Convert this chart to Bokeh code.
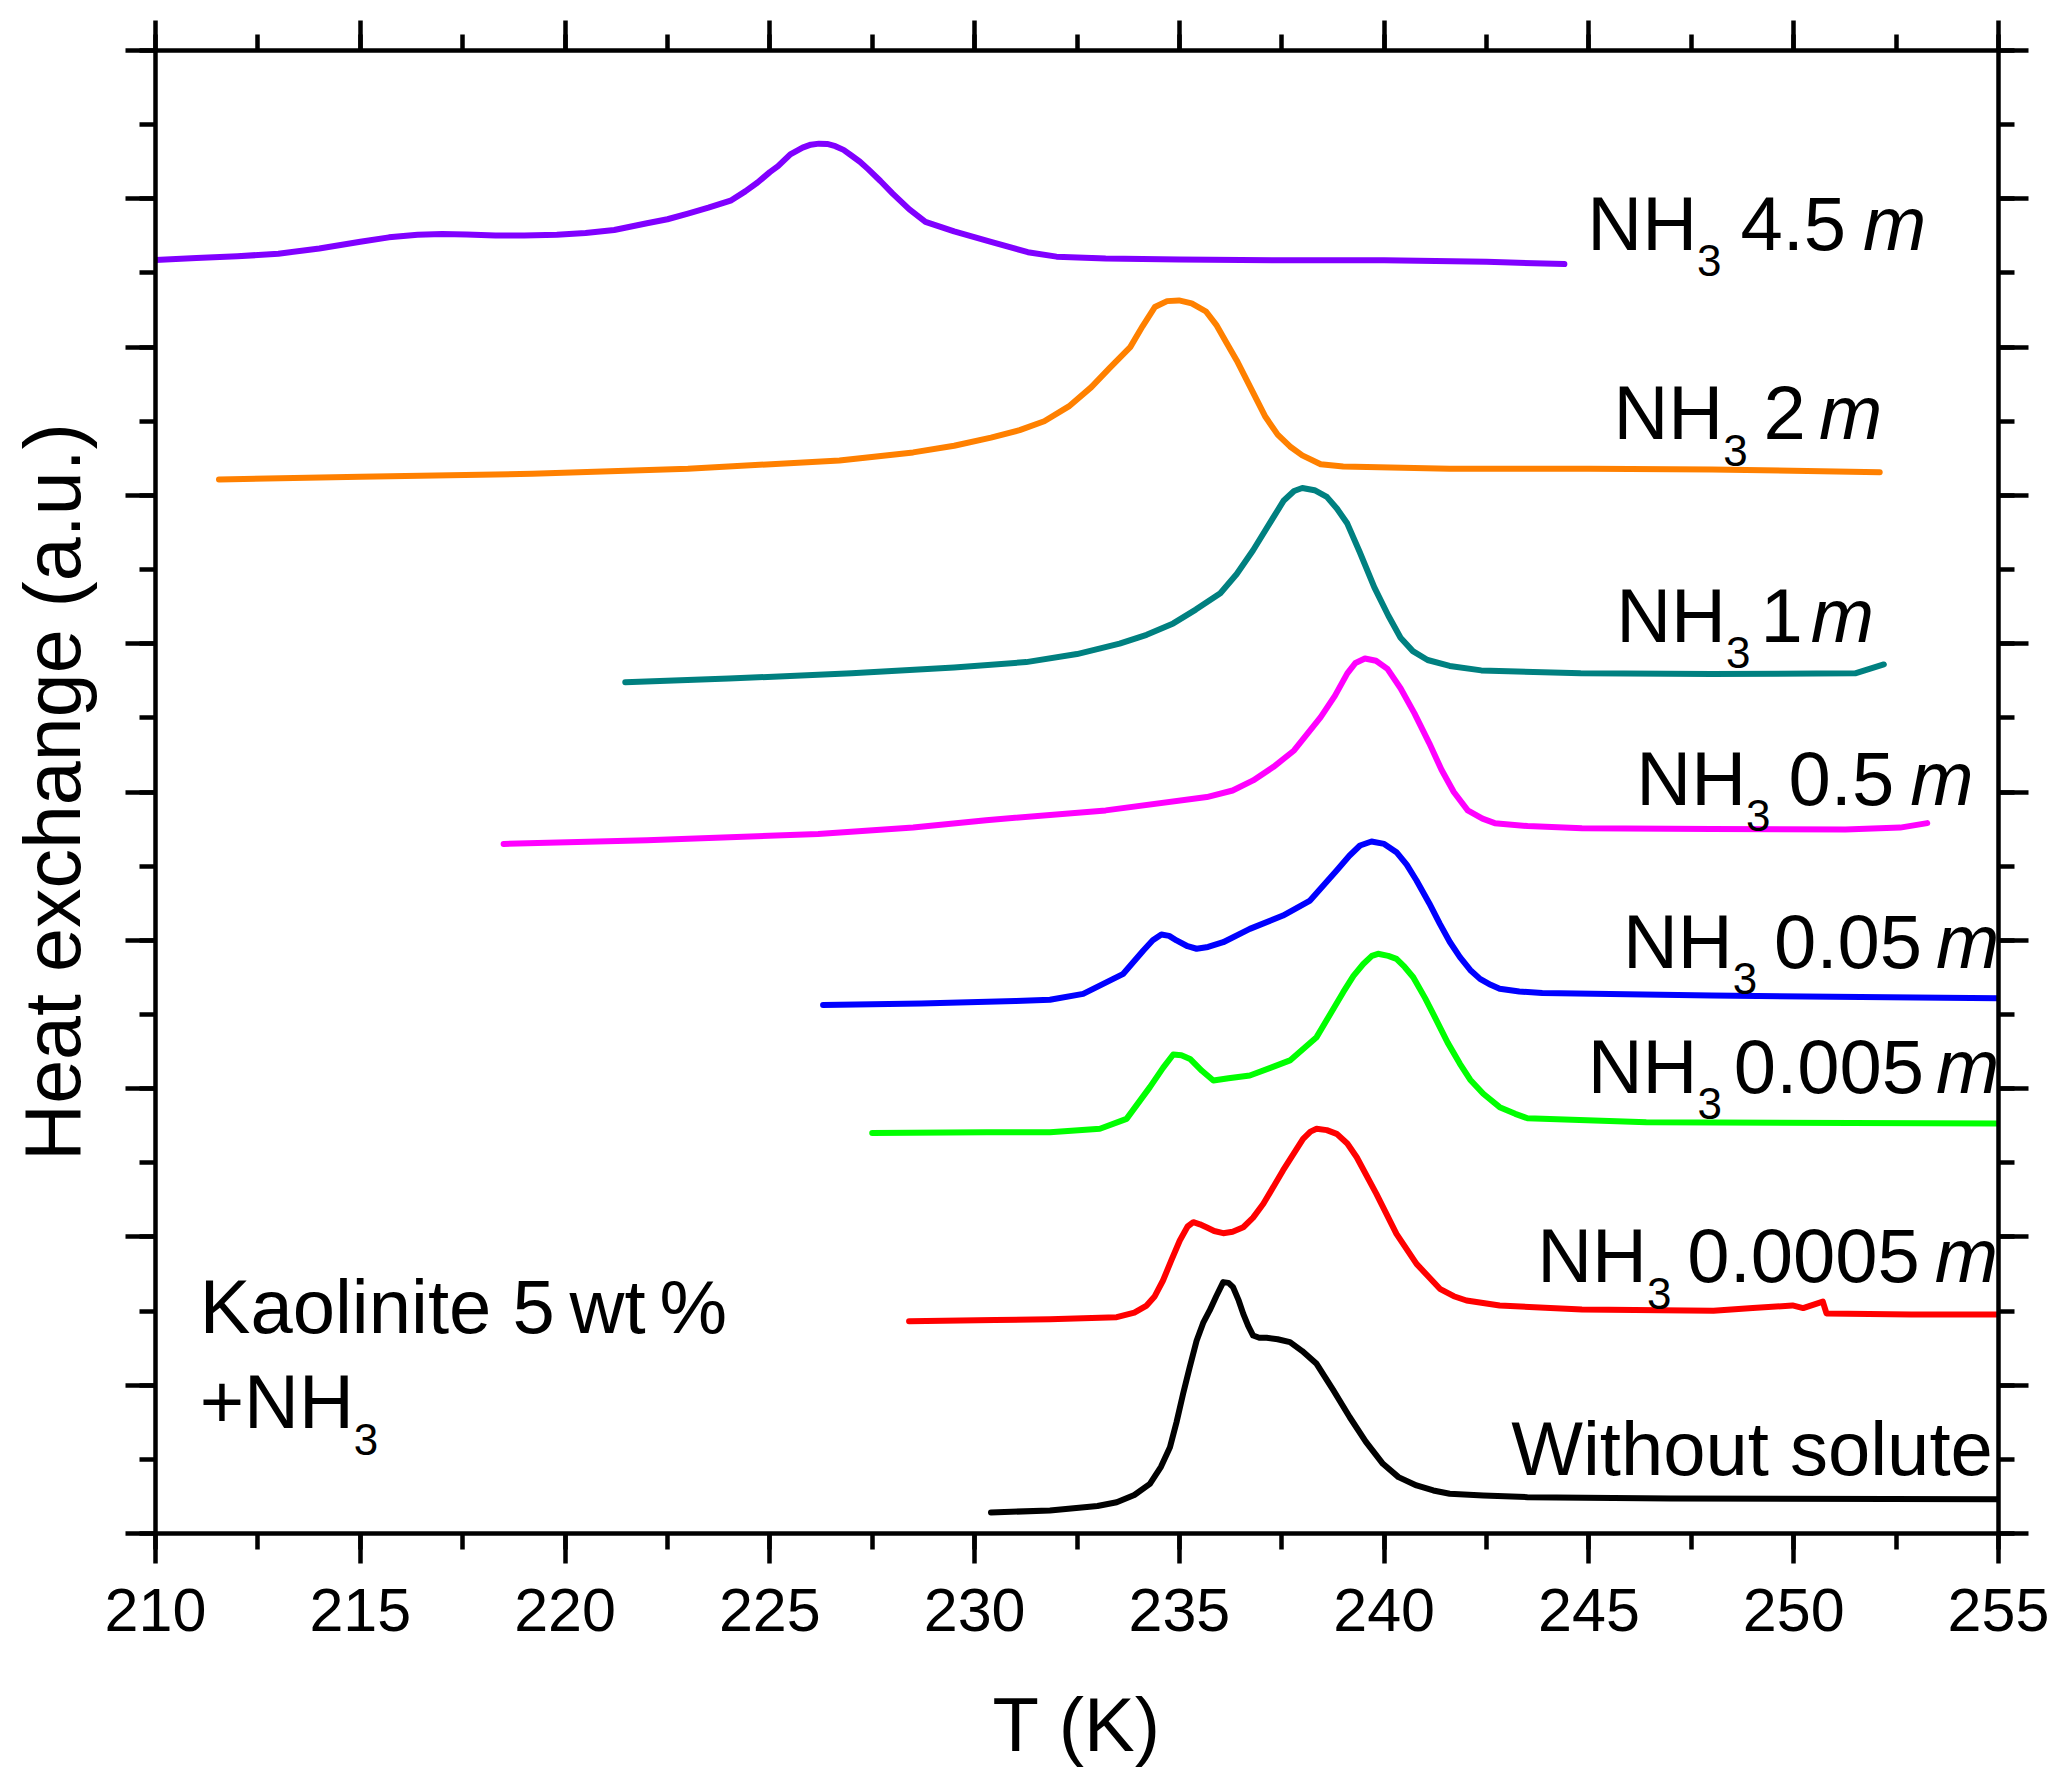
from bokeh.plotting import figure
from bokeh.models import Range1d, LinearAxis, SingleIntervalTicker, Label
from bokeh.embed import file_html
from bokeh.resources import INLINE

# DATOS: T en K, senal desplazada en unidades arbitrarias
t_45 = [210.0, 211.0, 212.0, 213.0, 214.0, 215.0, 215.7, 216.4, 217.0, 217.6, 218.3,
        219.0, 219.8, 220.5, 221.2, 222.0, 222.5, 223.0, 223.5, 224.06, 224.4, 224.7,
        225.0, 225.2, 225.5, 225.8, 226.0, 226.2, 226.4, 226.6, 226.8, 227.0, 227.2,
        227.4, 227.7, 228.0, 228.4, 228.8, 229.5, 230.4, 231.3, 232.0, 233.2, 235.0,
        237.5, 240.0, 242.5, 244.4]
y_45 = [8.587, 8.60, 8.612, 8.63, 8.665, 8.71, 8.74, 8.757, 8.763, 8.76, 8.752,
        8.752, 8.758, 8.77, 8.79, 8.835, 8.862, 8.90, 8.94, 8.99, 9.05, 9.11,
        9.18, 9.22, 9.30, 9.345, 9.365, 9.372, 9.37, 9.355, 9.33, 9.29, 9.25,
        9.20, 9.12, 9.035, 8.93, 8.845, 8.78, 8.71, 8.64, 8.61, 8.597, 8.59,
        8.585, 8.585, 8.575, 8.56]

t_2 = [211.55, 215.0, 219.2, 223.0, 226.7, 228.5, 229.5, 230.4, 231.1, 231.7, 232.3,
       232.85, 233.3, 233.8, 234.1, 234.4, 234.7, 234.99, 235.3, 235.65, 235.9, 236.15,
       236.4, 236.75, 237.1, 237.4, 237.7, 238.0, 238.45, 239.0, 241.6, 245.0, 248.0, 252.1]
y_2 = [7.107, 7.125, 7.146, 7.18, 7.236, 7.29, 7.335, 7.39, 7.44, 7.50, 7.60,
       7.73, 7.86, 8.0, 8.14, 8.27, 8.31, 8.315, 8.295, 8.24, 8.15, 8.03,
       7.91, 7.72, 7.53, 7.41, 7.33, 7.27, 7.21, 7.195, 7.18, 7.18, 7.175, 7.156]

t_1 = [221.47, 224.0, 227.0, 229.5, 231.26, 232.5, 233.54, 234.2, 234.85, 235.4, 236.0,
       236.4, 236.8, 237.2, 237.55, 237.8, 238.0, 238.3, 238.6, 238.85, 239.1, 239.4,
       239.76, 240.1, 240.4, 240.7, 241.06, 241.6, 242.37, 244.8, 248.0, 251.5, 252.2]
y_1 = [5.74, 5.765, 5.80, 5.84, 5.876, 5.93, 6.0, 6.06, 6.137, 6.23, 6.34,
       6.47, 6.63, 6.81, 6.966, 7.03, 7.05, 7.035, 6.99, 6.91, 6.81, 6.62,
       6.38, 6.19, 6.04, 5.95, 5.89, 5.85, 5.82, 5.80, 5.795, 5.80, 5.86]

t_05 = [218.5, 222.0, 226.18, 228.5, 230.28, 233.2, 235.67, 236.3, 236.8, 237.3, 237.8,
        238.45, 238.8, 239.1, 239.3, 239.53, 239.8, 240.08, 240.4, 240.74, 241.1, 241.4,
        241.7, 242.04, 242.4, 242.7, 243.5, 244.83, 248.0, 251.26, 252.6, 253.26]
y_05 = [4.65, 4.675, 4.716, 4.76, 4.81, 4.876, 4.966, 5.01, 5.078, 5.17, 5.28,
        5.505, 5.65, 5.80, 5.87, 5.90, 5.885, 5.83, 5.70, 5.53, 5.33, 5.15,
        5.00, 4.876, 4.82, 4.79, 4.77, 4.756, 4.75, 4.747, 4.76, 4.79]

t_005 = [226.3, 228.7, 231.0, 231.84, 232.65, 233.63, 234.12, 234.35, 234.56, 234.75,
         234.93, 235.2, 235.42, 235.7, 236.07, 236.72, 237.53, 238.19, 238.84, 239.15,
         239.41, 239.69, 240.0, 240.3, 240.55, 240.79, 241.1, 241.36, 241.6, 241.85,
         242.1, 242.34, 242.6, 242.82, 243.3, 243.86, 248.0, 255.0]
y_005 = [3.564, 3.573, 3.59, 3.599, 3.639, 3.774, 3.931, 4.0, 4.039, 4.03,
         3.999, 3.96, 3.943, 3.955, 3.987, 4.077, 4.167, 4.268, 4.471, 4.57,
         4.639, 4.666, 4.65, 4.594, 4.51, 4.403, 4.25, 4.111, 3.99, 3.886,
         3.80, 3.74, 3.70, 3.673, 3.655, 3.644, 3.627, 3.61]

t_0005 = [227.5, 230.3, 231.84, 233.06, 233.71, 234.28, 234.6, 234.85, 235.05, 235.26,
          235.55, 235.83, 236.2, 236.72, 237.7, 238.35, 239.0, 239.25, 239.49, 239.7,
          239.85, 240.1, 240.3, 240.5, 240.71, 241.0, 241.28, 241.55, 241.85, 242.1,
          242.42, 242.82, 243.2, 243.5, 246.4, 255.0]
y_0005 = [2.70, 2.705, 2.706, 2.729, 2.796, 3.01, 3.14, 3.23, 3.225, 3.20,
          3.12, 3.055, 3.07, 3.088, 3.19, 3.347, 3.65, 3.76, 3.84, 3.895,
          3.909, 3.895, 3.875, 3.82, 3.751, 3.61, 3.459, 3.31, 3.167, 3.06,
          2.965, 2.875, 2.83, 2.80, 2.773, 2.764]

t_00005 = [228.4, 230.5, 231.84, 233.47, 233.9, 234.2, 234.4, 234.6, 234.8, 235.01,
           235.2, 235.34, 235.5, 235.66, 235.85, 236.07, 236.3, 236.56, 236.8, 237.05,
           237.53, 238.02, 238.2, 238.35, 238.6, 238.84, 239.1, 239.33, 239.81, 240.3,
           240.79, 241.36, 241.7, 242.01, 242.82, 244.83, 248.04, 249.0, 249.97, 250.23,
           250.71, 250.8, 252.87, 255.0]
y_00005 = [1.431, 1.44, 1.445, 1.459, 1.49, 1.537, 1.60, 1.706, 1.84, 1.976,
           2.07, 2.099, 2.085, 2.065, 2.04, 2.025, 2.035, 2.065, 2.13, 2.223,
           2.448, 2.661, 2.71, 2.729, 2.72, 2.695, 2.63, 2.537, 2.29, 2.02,
           1.818, 1.65, 1.60, 1.571, 1.537, 1.511, 1.502, 1.52, 1.538, 1.52,
           1.564, 1.484, 1.476, 1.476]

t_0 = [230.4, 231.84, 233.0, 233.47, 233.9, 234.28, 234.55, 234.77, 234.93, 235.09,
       235.25, 235.42, 235.58, 235.74, 235.9, 236.07, 236.2, 236.31, 236.45, 236.56,
       236.68, 236.8, 236.95, 237.13, 237.4, 237.7, 238.0, 238.35, 238.75, 239.16,
       239.55, 239.97, 240.35, 240.79, 241.2, 241.6, 242.42, 243.5, 247.0, 255.0]
y_0 = [0.142, 0.155, 0.185, 0.211, 0.26, 0.335, 0.45, 0.582, 0.75, 0.942,
       1.12, 1.30, 1.42, 1.504, 1.60, 1.695, 1.69, 1.661, 1.57, 1.481,
       1.40, 1.335, 1.32, 1.32, 1.31, 1.29, 1.23, 1.144, 0.97, 0.784,
       0.62, 0.47, 0.38, 0.324, 0.29, 0.268, 0.256, 0.245, 0.236, 0.231]

series_t = [t_45, t_2, t_1, t_05, t_005, t_0005, t_00005, t_0]
series_y = [y_45, y_2, y_1, y_05, y_005, y_0005, y_00005, y_0]
colores = ["#8000FF", "#FF8000", "#008080", "#FF00FF", "#0000FF", "#00FF00", "#FF0000", "#000000"]

# etiquetas de cada curva: valor de molalidad
valores = ["4.5", "2", "1", "0.5", "0.05", "0.005", "0.0005"]
xticks = list(range(210, 256, 5))
yticks = list(range(0, 11))

FUENTE = "Liberation Sans"
GRANDE = 76
SUB = 44
PX_Y = 148.3   # pixeles por unidad del eje y

# FIGURA
p = figure(width=2060, height=1786, x_range=Range1d(210, 255), y_range=Range1d(0, 10),
           output_backend="svg", toolbar_location=None,
           min_border_left=155, min_border_right=62, min_border_top=50, min_border_bottom=253)
p.grid.visible = False
p.outline_line_color = None
p.background_fill_color = "white"
p.border_fill_color = "white"

xticker = SingleIntervalTicker(interval=5, num_minor_ticks=2)
yticker = SingleIntervalTicker(interval=1, num_minor_ticks=2)

p.add_layout(LinearAxis(), "above")
p.add_layout(LinearAxis(), "right")

for eje in p.axis:
    eje.axis_line_width = 4.5
    eje.axis_line_color = "black"
    eje.major_tick_line_width = 4.5
    eje.minor_tick_line_width = 4.5
    eje.major_tick_line_color = "black"
    eje.minor_tick_line_color = "black"
    eje.major_tick_out = 30
    eje.major_tick_in = 0
    eje.minor_tick_out = 16
    eje.minor_tick_in = 0
    eje.major_label_standoff = 0

p.above[0].ticker = xticker
p.below[0].ticker = xticker
p.left[0].ticker = yticker
p.right[0].ticker = yticker
p.above[0].major_label_overrides = {v: "" for v in xticks}
p.left[0].major_label_overrides = {v: "" for v in yticks}
p.right[0].major_label_overrides = {v: "" for v in yticks}

abajo = p.below[0]
abajo.major_label_text_font_size = "61px"
abajo.major_label_text_font = FUENTE
abajo.major_label_text_color = "black"
abajo.major_label_standoff = 25
abajo.axis_label = "T (K)"
abajo.axis_label_text_font = FUENTE
abajo.axis_label_text_font_size = "76px"
abajo.axis_label_text_font_style = "normal"
abajo.axis_label_text_color = "black"
abajo.axis_label_standoff = 48

izq = p.left[0]
izq.axis_label = "Heat exchange (a.u.)"
izq.axis_label_text_font = FUENTE
izq.axis_label_text_font_size = "79px"
izq.axis_label_text_font_style = "normal"
izq.axis_label_text_color = "black"
izq.axis_label_standoff = 29

# CURVAS
for t, y, c in zip(series_t, series_y, colores):
    p.line(t, y, color=c, line_width=6, line_join="round", line_cap="round")

# TEXTOS
ANCHO = {"N": 0.722, "H": 0.722, "m": 0.833, ".": 0.278, " ": 0.278, "+": 0.584,
         "K": 0.667, "a": 0.556, "o": 0.556, "l": 0.222, "i": 0.222, "n": 0.556,
         "t": 0.278, "e": 0.556, "w": 0.722, "%": 0.889}
def ancho(s, size):
    return sum(ANCHO.get(ch, 0.556) for ch in s) * size

def texto(x, y, s, size=GRANDE, estilo="normal", dx=0, align="left"):
    # y es la linea base; Label centra el texto en su ancla, se corrige aqui
    y_ancla = y + 0.355 * size / PX_Y
    p.add_layout(Label(x=x, y=y_ancla, text=s, x_offset=dx, text_font=FUENTE,
                       text_font_size=f"{size}px", text_font_style=estilo,
                       text_align=align, text_baseline="alphabetic", text_color="black"))

BAJA = 26 / PX_Y   # caida del subindice en unidades de datos

lab_x = [253.24, 252.16, 251.96, 254.39, 255.02, 255.02, 254.99]
lab_y = [8.651, 7.375, 6.01, 4.91, 3.81, 2.97, 1.69]
huecos = [(19, 17), (16, 13), (10, 8), (18, 16), (17, 14), (12, 12), (16, 15)]

for v, x, y, (g1, g2) in zip(valores, lab_x, lab_y, huecos):
    total = ancho("NH", GRANDE) + ancho("3", SUB) + g1 + ancho(v, GRANDE) + g2 + ancho("m", GRANDE)
    off = -total
    texto(x, y, "NH", dx=off)
    off += ancho("NH", GRANDE)
    texto(x, y - BAJA, "3", size=SUB, dx=off)
    off += ancho("3", SUB) + g1
    texto(x, y, v, dx=off)
    off += ancho(v, GRANDE) + g2
    texto(x, y, "m", estilo="italic", dx=off)

texto(254.86, 0.39, "Without solute", align="right")

# rotulo de la muestra, con espacios estrechos como en el original
off = 0
texto(211.08, 1.346, "Kaolinite 5")
off += ancho("Kaolinite 5", GRANDE) + 15
texto(211.08, 1.346, "wt", dx=off)
off += ancho("wt", GRANDE) + 14
texto(211.08, 1.346, "%", dx=off)

texto(211.08, 0.706, "+NH")
texto(211.08, 0.706 - BAJA, "3", size=SUB, dx=ancho("+NH", GRANDE))

open("out.html", "w").write(file_html(p, INLINE))
